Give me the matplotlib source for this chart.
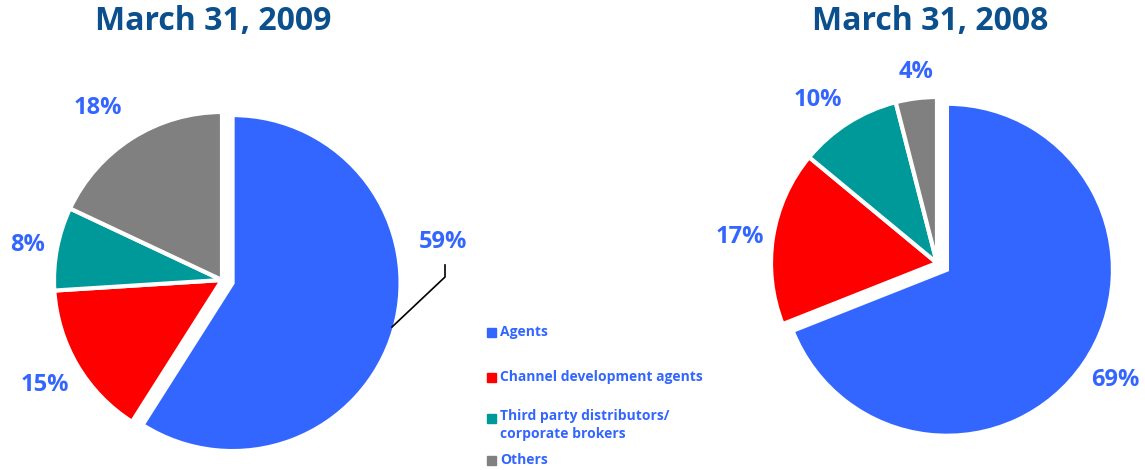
import matplotlib.pyplot as plt

plt.rcParams['font.family'] = ['Open Sans', 'DejaVu Sans']

categories = ['Agents', 'Channel development agents',
              'Third party distributors/\ncorporate brokers', 'Others']
share_2009 = [59, 15, 8, 18]
share_2008 = [69, 17, 10, 4]
titles = ['March 31, 2009', 'March 31, 2008']

colors = ['#3366ff', '#ff0000', '#009999', '#808080']
label_blue = '#3366ff'
title_blue = '#0b4f8c'

W, H = 1145, 470
fig = plt.figure(figsize=(W / 100, H / 100), dpi=100)
ax = fig.add_axes([0, 0, 1, 1])

# pies drawn in pixel coordinates (y from bottom); explode is in data units
ax.pie(share_2009, colors=colors, startangle=90, counterclock=False,
       center=(222, H - 280), radius=168, explode=[11, 0, 0, 0],
       wedgeprops=dict(edgecolor='white', linewidth=3), frame=True)
ax.pie(share_2008, colors=colors, startangle=90, counterclock=False,
       center=(937, H - 263), radius=166, explode=[12, 0, 0, 0],
       wedgeprops=dict(edgecolor='white', linewidth=3), frame=True)
ax.set_xlim(0, W)
ax.set_ylim(0, H)
ax.set_aspect('equal')
ax.axis('off')

# titles
ax.text(213, H - 22, titles[0], ha='center', va='center', fontsize=23,
        fontweight='bold', color=title_blue)
ax.text(930, H - 22, titles[1], ha='center', va='center', fontsize=23,
        fontweight='bold', color=title_blue)

# percentage labels
lbl = dict(ha='center', va='center', fontsize=17, fontweight='bold', color=label_blue)
pos_2009 = [(443, 242), (45, 385), (28, 245), (98, 108)]
pos_2008 = [(1115, 380), (740, 237), (818, 100), (916, 72)]
for v, (x, y) in zip(share_2009, pos_2009):
    ax.text(x, H - y, f'{v}%', **lbl)
for v, (x, y) in zip(share_2008, pos_2008):
    ax.text(x, H - y, f'{v}%', **lbl)

# leader line for 59%
ax.plot([445, 445, 392], [H - 265, H - 277, H - 327], color='black', lw=1.2)

# legend
leg_y = [332, 377, 418, 460]
for c, name, y in zip(colors, categories, leg_y):
    ax.add_patch(plt.Rectangle((487, H - y - 4.5), 9, 9, color=c))
    if '\n' in name:
        ax.text(500, H - y + 9, name, ha='left', va='top', fontsize=10,
                fontweight='bold', color=label_blue, linespacing=1.4)
    else:
        ax.text(500, H - y, name, ha='left', va='center', fontsize=10,
                fontweight='bold', color=label_blue)

fig.savefig('out.png', dpi=100)
